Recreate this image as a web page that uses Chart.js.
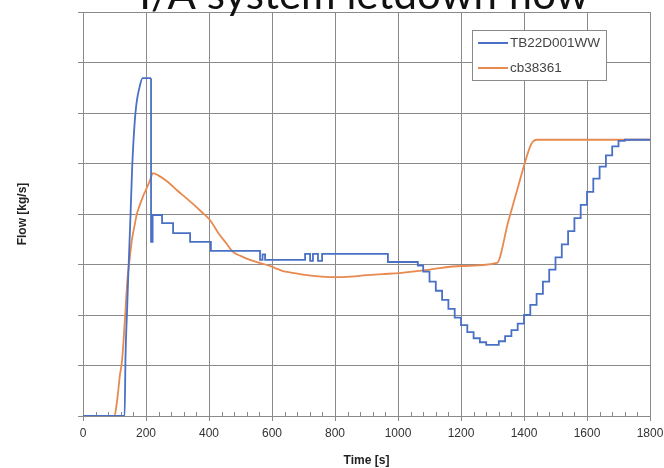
<!DOCTYPE html>
<html lang="en">
<head>
<meta charset="utf-8">
<title>I/A system letdown flow</title>
<script src="https://cdn.jsdelivr.net/npm/chart.js@4.4.1/dist/chart.umd.min.js"></script>
<style>
    html, body { margin: 0; padding: 0; background: #fff; }
    #wrap { position: relative; width: 664px; height: 468px; }
</style>
</head>
<body>
<div id="wrap"><canvas id="flowChart" width="664" height="468"></canvas></div>
<script>
const chartTitle = 'I/A system letdown flow';
const seriesNames = ['TB22D001WW', 'cb38361'];
const xTicks = [0, 200, 400, 600, 800, 1000, 1200, 1400, 1600, 1800];

// TB22D001WW, first fast rise (smooth)
const blueRiseTimes = [0, 132, 135, 140, 144, 151, 156, 163, 170, 181, 189, 216];
const blueRiseValues = [0, 0, 1.2, 2.1, 2.83, 4.0, 4.9, 5.72, 6.2, 6.55, 6.69, 6.69];

// TB22D001WW after the peak (value held until next time)
const blueTimes = [216, 216, 221, 251, 286, 340, 406, 562, 570, 578,
    705, 721, 730, 746, 759, 968, 1063, 1080, 1100, 1120,
    1140, 1160, 1180, 1200, 1220, 1240, 1260, 1280, 1320, 1340,
    1360, 1380, 1400, 1420, 1440, 1460, 1480, 1500, 1520, 1540,
    1560, 1580, 1600, 1620, 1640, 1660, 1680, 1700, 1720, 1800];
const blueValues = [6.69, 3.45, 3.98, 3.82, 3.62, 3.45, 3.27, 3.09, 3.2, 3.09,
    3.21, 3.07, 3.21, 3.07, 3.21, 3.05, 2.98, 2.86, 2.66, 2.48,
    2.30, 2.12, 1.95, 1.80, 1.66, 1.54, 1.46, 1.41, 1.48, 1.58,
    1.70, 1.83, 2.00, 2.20, 2.42, 2.66, 2.90, 3.14, 3.40, 3.66,
    3.92, 4.18, 4.44, 4.70, 4.94, 5.16, 5.34, 5.45, 5.47, 5.47];

// cb38361
const orangeTimes = [0, 100, 106, 111, 117, 124, 133, 141, 148, 155,
    163, 171, 180, 190, 200, 213, 222, 240, 260, 276,
    300, 325, 349, 375, 403, 430, 455, 476, 500, 530,
    560, 584, 610, 635, 660, 689, 740, 794, 850, 900,
    950, 1006, 1100, 1200, 1314, 1350, 1387, 1419, 1428, 1440,
    1800];
const orangeValues = [0, 0, 0.2, 0.45, 0.8, 1.1, 1.9, 2.7, 3.1, 3.48,
    3.75, 4.0, 4.17, 4.34, 4.48, 4.67, 4.81, 4.76, 4.68, 4.6,
    4.46, 4.33, 4.2, 4.05, 3.88, 3.62, 3.42, 3.25, 3.17, 3.09,
    3.03, 2.99, 2.93, 2.87, 2.84, 2.81, 2.77, 2.75, 2.76, 2.79,
    2.81, 2.83, 2.90, 2.97, 3.03, 3.85, 4.67, 5.33, 5.43, 5.47,
    5.47];

const blueColor = '#4a70c6';
const orangeColor = '#e8894f';
const gridColor = '#8a8a8a';

function toPoints(times, values) {
    return times.map((t, i) => ({ x: t, y: values[i] }));
}

// big title, partly cut off at the top of the picture
const topTitle = {
    id: 'topTitle',
    afterDraw(chart) {
        const ctx = chart.ctx;
        ctx.save();
        ctx.font = '42px Lato';
        ctx.fillStyle = '#111';
        ctx.textAlign = 'center';
        ctx.textBaseline = 'alphabetic';
        ctx.fillText(chartTitle, 364, 9);
        ctx.restore();
    }
};

// small minor ticks along the bottom axis
const minorTicks = {
    id: 'minorTicks',
    beforeDatasetsDraw(chart) {
        const ctx = chart.ctx;
        const xs = chart.scales.x;
        const bottom = chart.chartArea.bottom;
        ctx.save();
        ctx.strokeStyle = gridColor;
        ctx.lineWidth = 1;
        for (let t = xs.min; t <= xs.max; t += 40) {
            const px = Math.round(xs.getPixelForValue(t)) + 0.5;
            ctx.beginPath();
            ctx.moveTo(px, bottom);
            ctx.lineTo(px, bottom - 4);
            ctx.stroke();
        }
        ctx.restore();
    }
};

// boxed legend inside the plot, one row per series name
const boxLegend = {
    id: 'boxLegend',
    afterDatasetsDraw(chart) {
        const ctx = chart.ctx;
        ctx.save();
        ctx.fillStyle = '#fff';
        ctx.fillRect(472.5, 30.5, 134, 50);
        ctx.strokeStyle = gridColor;
        ctx.lineWidth = 1;
        ctx.strokeRect(472.5, 30.5, 134, 50);
        ctx.font = '13.5px "Liberation Sans"';
        ctx.textBaseline = 'middle';
        const seen = [];
        chart.data.datasets.forEach(ds => {
            if (seen.includes(ds.label)) return;
            const y = 43 + seen.length * 25;
            seen.push(ds.label);
            ctx.strokeStyle = ds.borderColor;
            ctx.lineWidth = 2;
            ctx.beginPath();
            ctx.moveTo(478, y);
            ctx.lineTo(508, y);
            ctx.stroke();
            ctx.fillStyle = '#444';
            ctx.fillText(ds.label, 510, y);
        });
        ctx.restore();
    }
};

new Chart(document.getElementById('flowChart'), {
    type: 'line',
    data: {
        datasets: [
            {
                label: seriesNames[0],
                data: toPoints(blueRiseTimes, blueRiseValues),
                borderColor: blueColor,
                borderWidth: 1.8,
                pointRadius: 0,
                cubicInterpolationMode: 'monotone',
                fill: false
            },
            {
                label: seriesNames[0],
                data: toPoints(blueTimes, blueValues),
                borderColor: blueColor,
                borderWidth: 1.8,
                pointRadius: 0,
                stepped: true,
                fill: false
            },
            {
                label: seriesNames[1],
                data: toPoints(orangeTimes, orangeValues),
                borderColor: orangeColor,
                borderWidth: 1.8,
                pointRadius: 0,
                cubicInterpolationMode: 'monotone',
                fill: false
            }
        ]
    },
    options: {
        responsive: false,
        animation: false,
        layout: { padding: { top: 12, right: 14, left: 0, bottom: 0 } },
        plugins: {
            legend: { display: false },
            tooltip: { enabled: false }
        },
        scales: {
            x: {
                type: 'linear',
                min: 0,
                max: 1800,
                afterBuildTicks: s => { s.ticks = xTicks.map(v => ({ value: v })); },
                afterFit: s => {
                    s.height = 52;
                    s.paddingLeft = 0;
                    s.paddingRight = 0;
                },
                ticks: {
                    color: '#333',
                    font: { family: 'Liberation Sans', size: 12 },
                    padding: 5,
                    maxRotation: 0,
                    callback: v => String(v)
                },
                grid: { color: gridColor, tickLength: 5 },
                border: { color: gridColor },
                title: {
                    display: true,
                    text: 'Time [s]',
                    color: '#222',
                    font: { family: 'Liberation Sans', size: 12, weight: 'bold' },
                    padding: { top: 0, bottom: 0 }
                }
            },
            y: {
                min: 0,
                max: 8,
                ticks: { display: false, stepSize: 1 },
                afterFit: s => { s.width = 83; },
                grid: { color: gridColor, tickLength: 5 },
                border: { color: gridColor },
                title: {
                    display: true,
                    text: 'Flow [kg/s]',
                    color: '#222',
                    font: { family: 'Liberation Sans', size: 12, weight: 'bold' },
                    padding: { top: 15, bottom: 0 }
                }
            }
        }
    },
    plugins: [minorTicks, boxLegend, topTitle]
});
</script>
</body>
</html>
